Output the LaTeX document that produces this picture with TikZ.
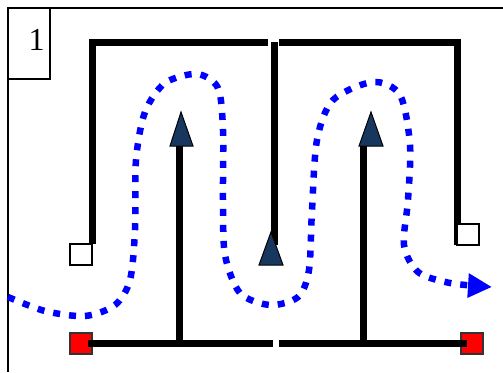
\documentclass[tikz,border=0pt]{standalone}
\usepackage{fontspec}
\setmainfont{Liberation Serif}
\usetikzlibrary{arrows.meta}
\definecolor{navy}{RGB}{23,55,94}
\definecolor{pureblue}{RGB}{0,0,255}
\begin{document}
\begin{tikzpicture}[x=1pt,y=-1pt,
 wall/.style={line width=7pt, line cap=butt, line join=miter},
 framestyle/.style={line width=1.8pt},
 tri/.style={fill=navy, draw=black, line width=1pt, line join=miter},
 opensq/.style={fill=white, draw=black, line width=1.5pt},
 redsq/.style={fill=red, draw=black!80, line width=1.2pt},
 flow/.style={pureblue, line width=6.5pt, dash pattern=on 7pt off 9pt, -{Triangle[length=24pt,width=23pt]}}]
\useasboundingbox (0,0) rectangle (503,372);
% frame and label
\draw[framestyle] (503,8) -- (8,8) -- (8,372);
\draw[line width=1.2pt] (8,8) rectangle (50,79);
\node[font=\fontsize{32}{32}\selectfont, inner sep=0pt] (lbl) at (36.5,40) {1};
% red squares (beneath bottom walls)
\draw[redsq] (70,333) rectangle (92,354);
\draw[redsq] (461,333) rectangle (483,354);
% top walls
\draw[wall] (268,42.5) -- (92,42.5) -- (92,244);
\draw[wall] (279,42.5) -- (457,42.5) -- (457,245);
\draw[wall] (274,42) -- (274,245);
% bottom walls
\draw[wall] (88,343.5) -- (273,343.5);
\draw[wall] (279,343.5) -- (467,343.5);
% open squares
\draw[opensq] (70,244) rectangle (92,265);
\draw[opensq] (457,224) rectangle (479,245);
% vertical arrows
\draw[wall] (179.5,343.5) -- (179.5,142);
\draw[tri] (181,112) -- (193,146) -- (170,146) -- cycle;
\draw[wall] (363.5,343.5) -- (363.5,142);
\draw[tri] (371,112) -- (383,146) -- (359,146) -- cycle;
\draw[tri] (271,232) -- (283,265) -- (259,265) -- cycle;
% blue flow path
\draw[flow] plot[smooth] coordinates {(8,297) (45,311) (85,316) (115,305) (130,280) (135,230) (136,160) (145,112) (165,83) (197,74) (218,88) (223,130) (223,200) (225,255) (240,293) (270,305) (298,297) (309,270) (312,210) (317,140) (333,100) (373,82) (400,95) (410,145) (408,200) (404,245) (418,272) (450,283) (492,287)};
\end{tikzpicture}
\end{document}
